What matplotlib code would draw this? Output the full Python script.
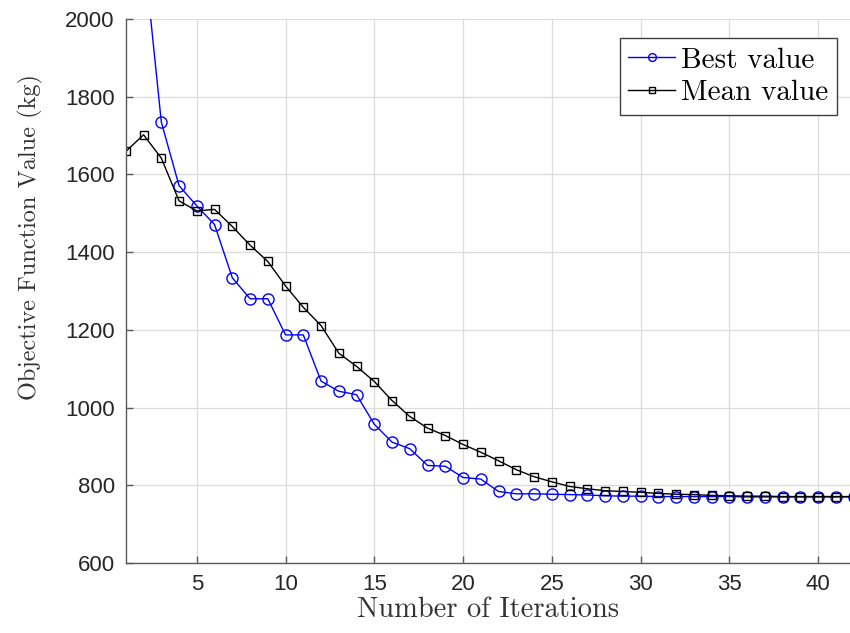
import matplotlib
matplotlib.use("Agg")
import matplotlib.pyplot as plt

# --- Data ---
iterations = list(range(1, 43))
best_value = [2500, 2180, 1735, 1571, 1519, 1471, 1334, 1280, 1280, 1187,
              1187, 1068, 1042, 1033, 957, 911, 894, 851, 849, 820,
              816, 784, 778, 778, 777, 776, 775, 773, 772, 772,
              771, 771, 771, 771, 771, 770, 770, 770, 770, 770,
              770, 770]
mean_value = [1659, 1702, 1642, 1532, 1506, 1510, 1466, 1418, 1376, 1313,
              1258, 1211, 1140, 1106, 1067, 1018, 977, 947, 928, 905,
              885, 863, 840, 822, 809, 797, 791, 786, 784, 782,
              779, 777, 776, 774, 773, 772, 772, 771, 771, 771,
              771, 771]
x_ticks = [5, 10, 15, 20, 25, 30, 35, 40]
y_ticks = [600, 800, 1000, 1200, 1400, 1600, 1800, 2000]

serif = "cmr10"
axis_grey = "#5a5a5a"

# --- Plot ---
fig = plt.figure(figsize=(8.5, 6.33), dpi=100)
ax = fig.add_axes([0.148, 0.1106, 0.852, 0.8594])

ax.plot(iterations, best_value, color="#0000ff", lw=1.0, marker="o",
        ms=8, mfc="none", mec="#0000ff", mew=1.0, label="Best value")
ax.plot(iterations, mean_value, color="black", lw=1.0, marker="s",
        ms=6, mfc="none", mec="black", mew=1.0, label="Mean value")

ax.set_xlim(1, 41.8)
ax.set_ylim(600, 2000)
ax.set_xticks(x_ticks)
ax.set_yticks(y_ticks)

ax.grid(True, color="#dcdcdc", lw=0.9)
ax.set_axisbelow(True)
for side in ("top", "right"):
    ax.spines[side].set_visible(False)
for side in ("left", "bottom"):
    ax.spines[side].set_color(axis_grey)
    ax.spines[side].set_linewidth(1.0)
ax.tick_params(direction="in", length=5, width=1.0, color=axis_grey,
               labelsize=16, labelcolor="#262626", pad=8)
for lbl in ax.get_xticklabels() + ax.get_yticklabels():
    lbl.set_family("Liberation Sans")

ax.set_xlabel("Number of Iterations", family=serif, fontsize=20.5,
              color="#333333", labelpad=1)
ax.set_ylabel("Objective Function Value (kg)", family=serif, fontsize=17.5,
              color="#333333")
ax.yaxis.set_label_coords(-0.115, 0.6)

leg = ax.legend(loc="upper right", bbox_to_anchor=(0.99, 0.975),
                prop={"family": serif, "size": 21}, fancybox=False,
                framealpha=1, edgecolor="#404040", handlelength=1.6,
                handletextpad=0.2, borderpad=0.3, labelspacing=0.2,
                borderaxespad=0.2)
leg.get_frame().set_linewidth(1.0)
for h in leg.legend_handles:
    h.set_markersize(h.get_markersize() * 0.7)

fig.savefig("out.png", dpi=100)
